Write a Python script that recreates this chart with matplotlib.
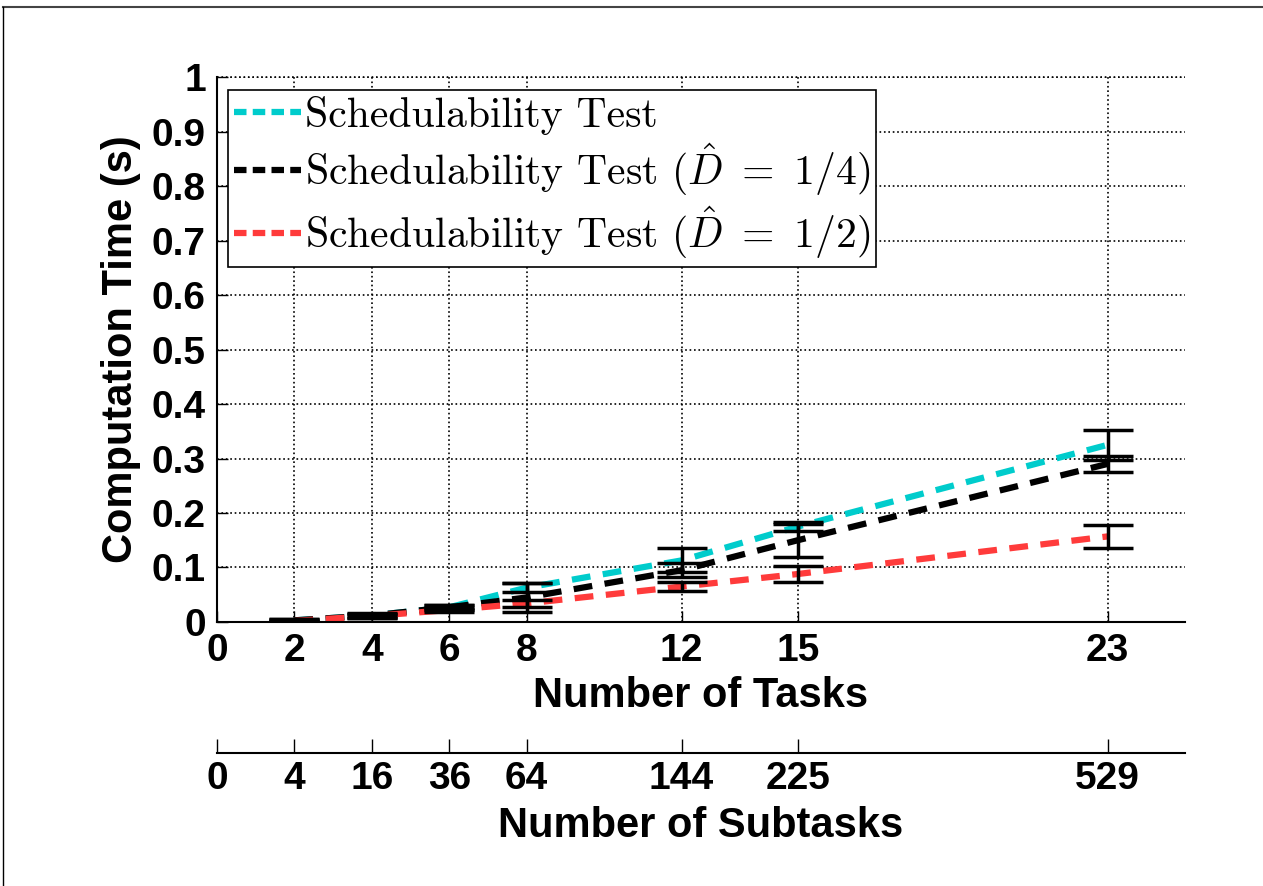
import matplotlib
matplotlib.use('Agg')
from matplotlib import pyplot as plt
from matplotlib.lines import Line2D

# number of tasks / subtasks
tasks = [2, 4, 6, 8, 12, 15, 23]
subtasks = [0, 4, 16, 36, 64, 144, 225, 529]
task_ticks = [0, 2, 4, 6, 8, 12, 15, 23]

# mean computation time (s) and error
sched = [0.003, 0.012, 0.027, 0.063, 0.113, 0.175, 0.325]
sched_err = [0.002, 0.003, 0.004, 0.008, 0.022, 0.008, 0.028]
sched_q = [0.003, 0.012, 0.027, 0.045, 0.095, 0.150, 0.290]
sched_q_err = [0.003, 0.004, 0.005, 0.027, 0.013, 0.030, 0.015]
sched_h = [0.002, 0.011, 0.022, 0.034, 0.065, 0.088, 0.157]
sched_h_err = [0.002, 0.003, 0.004, 0.006, 0.009, 0.015, 0.021]

labels = ['Schedulability Test',
          r'Schedulability Test ($\hat{D}\ =\ 1/4$)',
          r'Schedulability Test ($\hat{D}\ =\ 1/2$)']
colors = ['#00cccc', 'black', '#ff3b3b']

plt.rcParams['mathtext.fontset'] = 'cm'
tickfont = dict(family='Liberation Sans', weight='bold', size=28)
labfont = dict(family='Liberation Sans', weight='bold', size=30)

fig = plt.figure(figsize=(12.63, 8.86), dpi=100)
ax = fig.add_axes([0.1718, 0.298, 0.7664, 0.615])

for y, c in [(sched, colors[0]), (sched_q, colors[1]), (sched_h, colors[2])]:
    ax.plot(tasks, y, '--', color=c, lw=4.5, dashes=(3, 2))
for y, e in [(sched, sched_err), (sched_q, sched_q_err), (sched_h, sched_h_err)]:
    ax.errorbar(tasks, y, yerr=e, fmt='none', ecolor='black', elinewidth=2.5, capsize=18, capthick=2.5)

ax.set_xlim(0, 25)
ax.set_ylim(0, 1)
ax.set_xticks(task_ticks)
ax.set_yticks([i / 10 for i in range(11)])
ax.set_yticklabels(['0', '0.1', '0.2', '0.3', '0.4', '0.5', '0.6', '0.7', '0.8', '0.9', '1'])
ax.tick_params(direction='in', length=8, width=1, pad=8)
for lab in ax.get_xticklabels() + ax.get_yticklabels():
    lab.set_fontproperties(matplotlib.font_manager.FontProperties(**tickfont))
ax.grid(True, linestyle=':', color='black', lw=1.2)
ax.spines['top'].set_visible(False)
ax.spines['right'].set_visible(False)
ax.spines['left'].set_linewidth(1.5)
ax.spines['bottom'].set_linewidth(1.5)
ax.plot([0, 25], [1, 1], ':', color='black', lw=1.2, clip_on=False)
ax.set_xlabel('Number of Tasks', labelpad=5, **labfont)
ax.set_ylabel('Computation Time (s)', labelpad=8, **labfont)

handles = [Line2D([], [], color=c, ls='--', lw=4.5, dashes=(2, 1)) for c in colors]
leg = ax.legend(handles, labels, loc='upper left', bbox_to_anchor=(0.011, 0.977),
                prop=dict(family='cmr10', size=30), handlelength=1.6, handletextpad=0.1,
                fancybox=False, framealpha=1, edgecolor='black', borderpad=0.15,
                labelspacing=0.15, borderaxespad=0)
leg.get_frame().set_linewidth(1.2)

# secondary axis for subtasks
ax2 = fig.add_axes([0.1718, 0.150, 0.7664, 0.001])
ax2.patch.set_visible(False)
ax2.set_xlim(0, 25)
ax2.set_yticks([])
ax2.set_xticks(task_ticks)
ax2.set_xticklabels([str(s) for s in subtasks], **tickfont)
ax2.tick_params(axis='x', direction='in', length=10, width=1, pad=6)
ax2.spines['top'].set_visible(False)
ax2.spines['left'].set_visible(False)
ax2.spines['right'].set_visible(False)
ax2.spines['bottom'].set_linewidth(1.5)
ax2.set_xlabel('Number of Subtasks', labelpad=6, **labfont)

# border of the picture
fig.add_artist(Line2D([3 / 1263, 1], [1 - 7 / 886, 1 - 7 / 886], color='#444444', lw=1.5))
fig.add_artist(Line2D([3 / 1263, 3 / 1263], [0, 1 - 7 / 886], color='black', lw=1))

fig.savefig('out.png', dpi=100)
